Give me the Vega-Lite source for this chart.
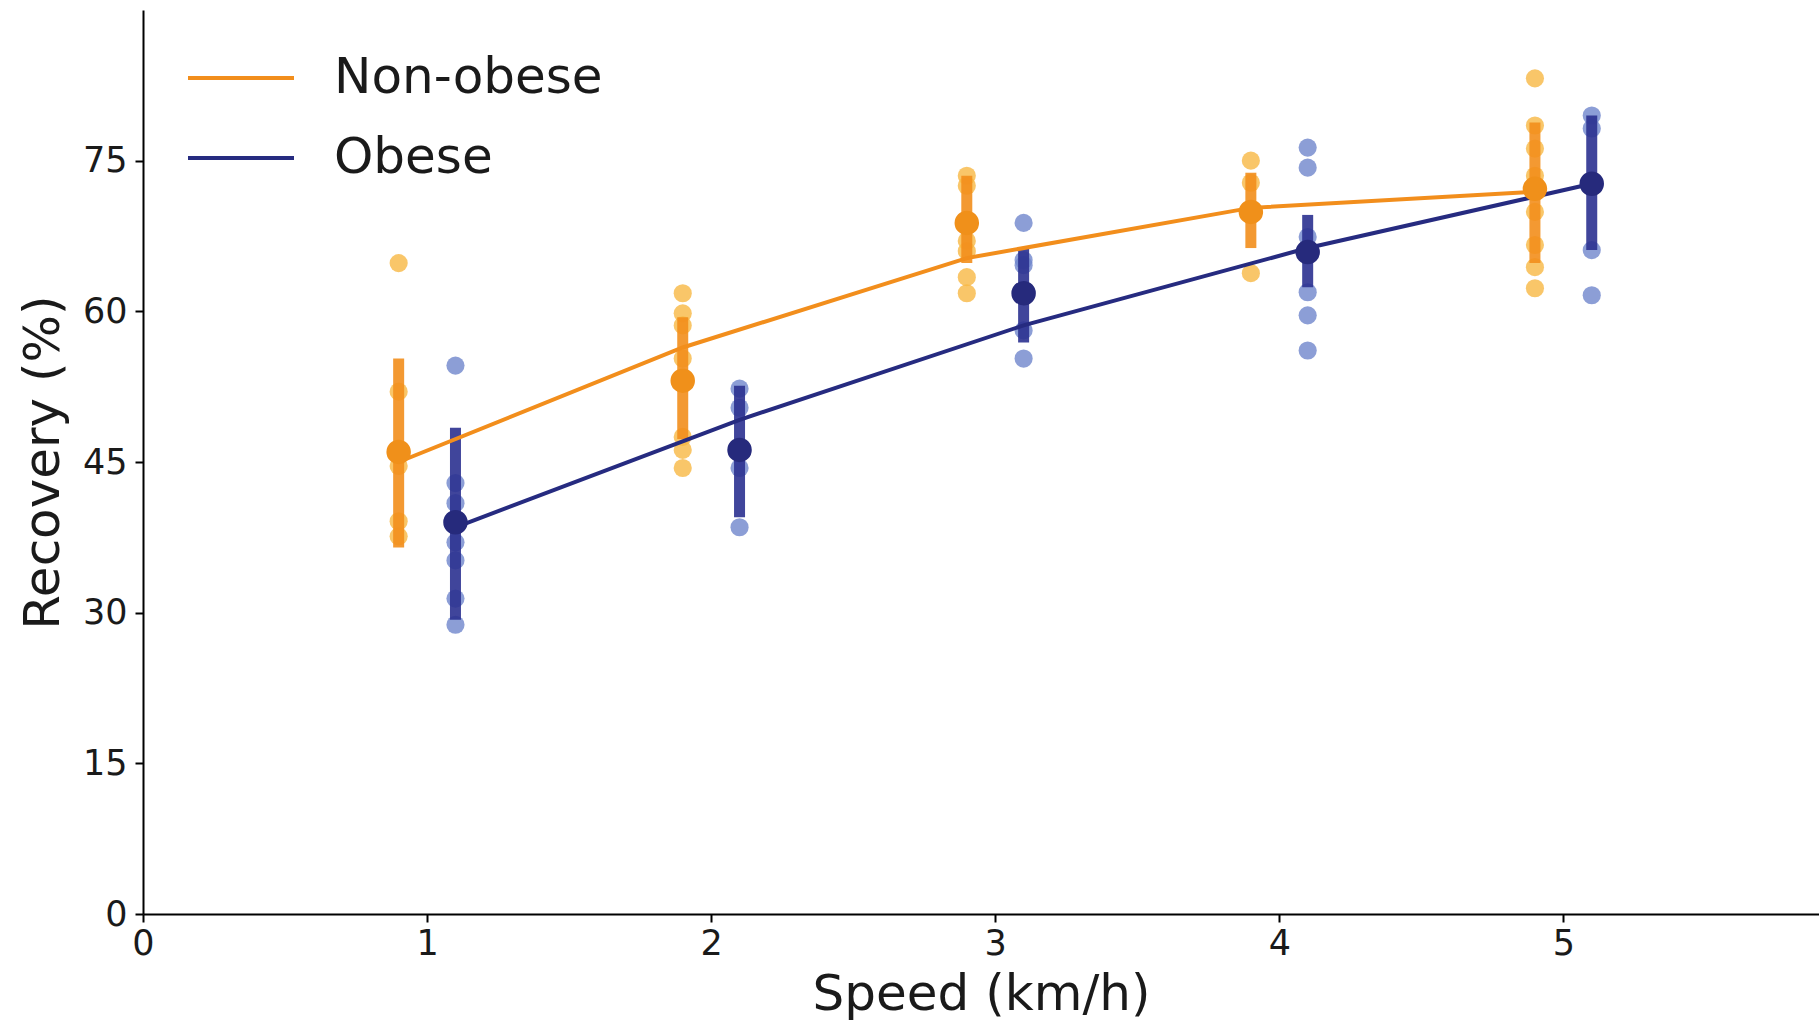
{
  "$schema": "https://vega.github.io/schema/vega-lite/v6.json",
  "autosize": "none",
  "width": 1676,
  "height": 904,
  "padding": {"left": 143, "top": 10, "right": 0, "bottom": 111},
  "background": "white",
  "config": {
    "view": {"stroke": null},
    "font": "DejaVu Sans",
    "axis": {
      "grid": false,
      "domainColor": "#000000",
      "domainWidth": 2,
      "tickColor": "#000000",
      "tickWidth": 2,
      "tickSize": 8,
      "labelFont": "DejaVu Sans",
      "labelFontSize": 35,
      "labelColor": "#1a1a1a",
      "labelFlush": false,
      "titleFont": "DejaVu Sans",
      "titleFontSize": 50,
      "titleFontWeight": "normal",
      "titleColor": "#1a1a1a"
    }
  },
  "datasets": {
    "points": [
      {"group": "Non-obese", "speed": 0.9, "recovery": 64.8},
      {"group": "Non-obese", "speed": 0.9, "recovery": 52.0},
      {"group": "Non-obese", "speed": 0.9, "recovery": 44.6},
      {"group": "Non-obese", "speed": 0.9, "recovery": 39.1},
      {"group": "Non-obese", "speed": 0.9, "recovery": 37.6},
      {"group": "Obese", "speed": 1.1, "recovery": 54.6},
      {"group": "Obese", "speed": 1.1, "recovery": 42.9},
      {"group": "Obese", "speed": 1.1, "recovery": 40.9},
      {"group": "Obese", "speed": 1.1, "recovery": 37.0},
      {"group": "Obese", "speed": 1.1, "recovery": 35.2},
      {"group": "Obese", "speed": 1.1, "recovery": 31.4},
      {"group": "Obese", "speed": 1.1, "recovery": 28.8},
      {"group": "Non-obese", "speed": 1.9, "recovery": 61.8},
      {"group": "Non-obese", "speed": 1.9, "recovery": 59.8},
      {"group": "Non-obese", "speed": 1.9, "recovery": 58.6},
      {"group": "Non-obese", "speed": 1.9, "recovery": 55.3},
      {"group": "Non-obese", "speed": 1.9, "recovery": 47.5},
      {"group": "Non-obese", "speed": 1.9, "recovery": 46.2},
      {"group": "Non-obese", "speed": 1.9, "recovery": 44.4},
      {"group": "Obese", "speed": 2.1, "recovery": 52.3},
      {"group": "Obese", "speed": 2.1, "recovery": 50.4},
      {"group": "Obese", "speed": 2.1, "recovery": 44.4},
      {"group": "Obese", "speed": 2.1, "recovery": 38.5},
      {"group": "Non-obese", "speed": 2.9, "recovery": 73.5},
      {"group": "Non-obese", "speed": 2.9, "recovery": 72.5},
      {"group": "Non-obese", "speed": 2.9, "recovery": 67.0},
      {"group": "Non-obese", "speed": 2.9, "recovery": 66.0},
      {"group": "Non-obese", "speed": 2.9, "recovery": 63.4},
      {"group": "Non-obese", "speed": 2.9, "recovery": 61.8},
      {"group": "Obese", "speed": 3.1, "recovery": 68.8},
      {"group": "Obese", "speed": 3.1, "recovery": 65.1},
      {"group": "Obese", "speed": 3.1, "recovery": 64.6},
      {"group": "Obese", "speed": 3.1, "recovery": 58.1},
      {"group": "Obese", "speed": 3.1, "recovery": 55.3},
      {"group": "Non-obese", "speed": 3.9, "recovery": 75.0},
      {"group": "Non-obese", "speed": 3.9, "recovery": 72.8},
      {"group": "Non-obese", "speed": 3.9, "recovery": 63.8},
      {"group": "Obese", "speed": 4.1, "recovery": 76.3},
      {"group": "Obese", "speed": 4.1, "recovery": 74.3},
      {"group": "Obese", "speed": 4.1, "recovery": 67.4},
      {"group": "Obese", "speed": 4.1, "recovery": 61.9},
      {"group": "Obese", "speed": 4.1, "recovery": 59.6},
      {"group": "Obese", "speed": 4.1, "recovery": 56.1},
      {"group": "Non-obese", "speed": 4.9, "recovery": 83.2},
      {"group": "Non-obese", "speed": 4.9, "recovery": 78.5},
      {"group": "Non-obese", "speed": 4.9, "recovery": 76.2},
      {"group": "Non-obese", "speed": 4.9, "recovery": 73.5},
      {"group": "Non-obese", "speed": 4.9, "recovery": 69.9},
      {"group": "Non-obese", "speed": 4.9, "recovery": 66.6},
      {"group": "Non-obese", "speed": 4.9, "recovery": 64.4},
      {"group": "Non-obese", "speed": 4.9, "recovery": 62.3},
      {"group": "Obese", "speed": 5.1, "recovery": 79.5},
      {"group": "Obese", "speed": 5.1, "recovery": 78.2},
      {"group": "Obese", "speed": 5.1, "recovery": 66.1},
      {"group": "Obese", "speed": 5.1, "recovery": 61.6}
    ],
    "summary": [
      {"group": "Non-obese", "speed": 0.9, "mean": 46.0, "lo": 36.5, "hi": 55.3, "fit": 45.0},
      {"group": "Non-obese", "speed": 1.9, "mean": 53.1, "lo": 47.3, "hi": 59.4, "fit": 56.4},
      {"group": "Non-obese", "speed": 2.9, "mean": 68.8, "lo": 64.8, "hi": 73.5, "fit": 65.3},
      {"group": "Non-obese", "speed": 3.9, "mean": 69.9, "lo": 66.3, "hi": 73.8, "fit": 70.3},
      {"group": "Non-obese", "speed": 4.9, "mean": 72.2, "lo": 64.8, "hi": 78.8, "fit": 71.9},
      {"group": "Obese", "speed": 1.1, "mean": 39.0, "lo": 29.3, "hi": 48.4, "fit": 38.5},
      {"group": "Obese", "speed": 2.1, "mean": 46.2, "lo": 39.5, "hi": 52.6, "fit": 49.2},
      {"group": "Obese", "speed": 3.1, "mean": 61.8, "lo": 56.9, "hi": 66.4, "fit": 58.6},
      {"group": "Obese", "speed": 4.1, "mean": 65.9, "lo": 62.4, "hi": 69.6, "fit": 66.3},
      {"group": "Obese", "speed": 5.1, "mean": 72.7, "lo": 66.1, "hi": 79.5, "fit": 72.7}
    ]
  },
  "encoding": {
    "x": {
      "field": "speed", "type": "quantitative",
      "scale": {"domain": [0, 5.9], "nice": false, "zero": false},
      "axis": {"values": [0, 1, 2, 3, 4, 5], "title": "Speed (km/h)", "labelPadding": 4, "titlePadding": 8}
    }
  },
  "layer": [
    {
      "data": {"name": "points"},
      "mark": {"type": "circle", "size": 330, "opacity": 0.8},
      "encoding": {
        "y": {
          "field": "recovery", "type": "quantitative",
          "scale": {"domain": [0, 90], "nice": false},
          "axis": {"values": [0, 15, 30, 45, 60, 75], "title": "Recovery (%)", "labelPadding": 8, "titlePadding": 14}
        },
        "color": {
          "field": "group", "type": "nominal",
          "scale": {"domain": ["Non-obese", "Obese"], "range": ["#f7b844", "#6f86cc"]},
          "legend": null
        }
      }
    },
    {
      "data": {"name": "summary"},
      "mark": {"type": "rule", "strokeWidth": 11, "opacity": 0.9},
      "encoding": {
        "y": {"field": "lo", "type": "quantitative"},
        "y2": {"field": "hi"},
        "color": {
          "field": "group", "type": "nominal",
          "scale": {"domain": ["Non-obese", "Obese"], "range": ["#f28e1c", "#2b3190"]},
          "legend": null
        }
      }
    },
    {
      "data": {"name": "summary"},
      "mark": {"type": "line", "strokeWidth": 4},
      "encoding": {
        "y": {"field": "fit", "type": "quantitative"},
        "color": {
          "field": "group", "type": "nominal",
          "scale": {"domain": ["Non-obese", "Obese"], "range": ["#f28e1c", "#262b80"]},
          "legend": {
            "title": null,
            "orient": "none",
            "legendX": 43,
            "legendY": 13,
            "symbolType": "stroke",
            "symbolSize": 11236,
            "symbolStrokeWidth": 4,
            "labelFont": "DejaVu Sans",
            "labelFontSize": 50,
            "labelColor": "#1a1a1a",
            "labelOffset": 38,
            "rowPadding": -38,
            "labelLimit": 500
          }
        }
      }
    },
    {
      "data": {"name": "summary"},
      "mark": {"type": "circle", "size": 600, "opacity": 1},
      "encoding": {
        "y": {"field": "mean", "type": "quantitative"},
        "color": {
          "field": "group", "type": "nominal",
          "scale": {"domain": ["Non-obese", "Obese"], "range": ["#f0901a", "#262a7c"]},
          "legend": null
        }
      }
    }
  ],
  "resolve": {"scale": {"color": "independent"}}
}
